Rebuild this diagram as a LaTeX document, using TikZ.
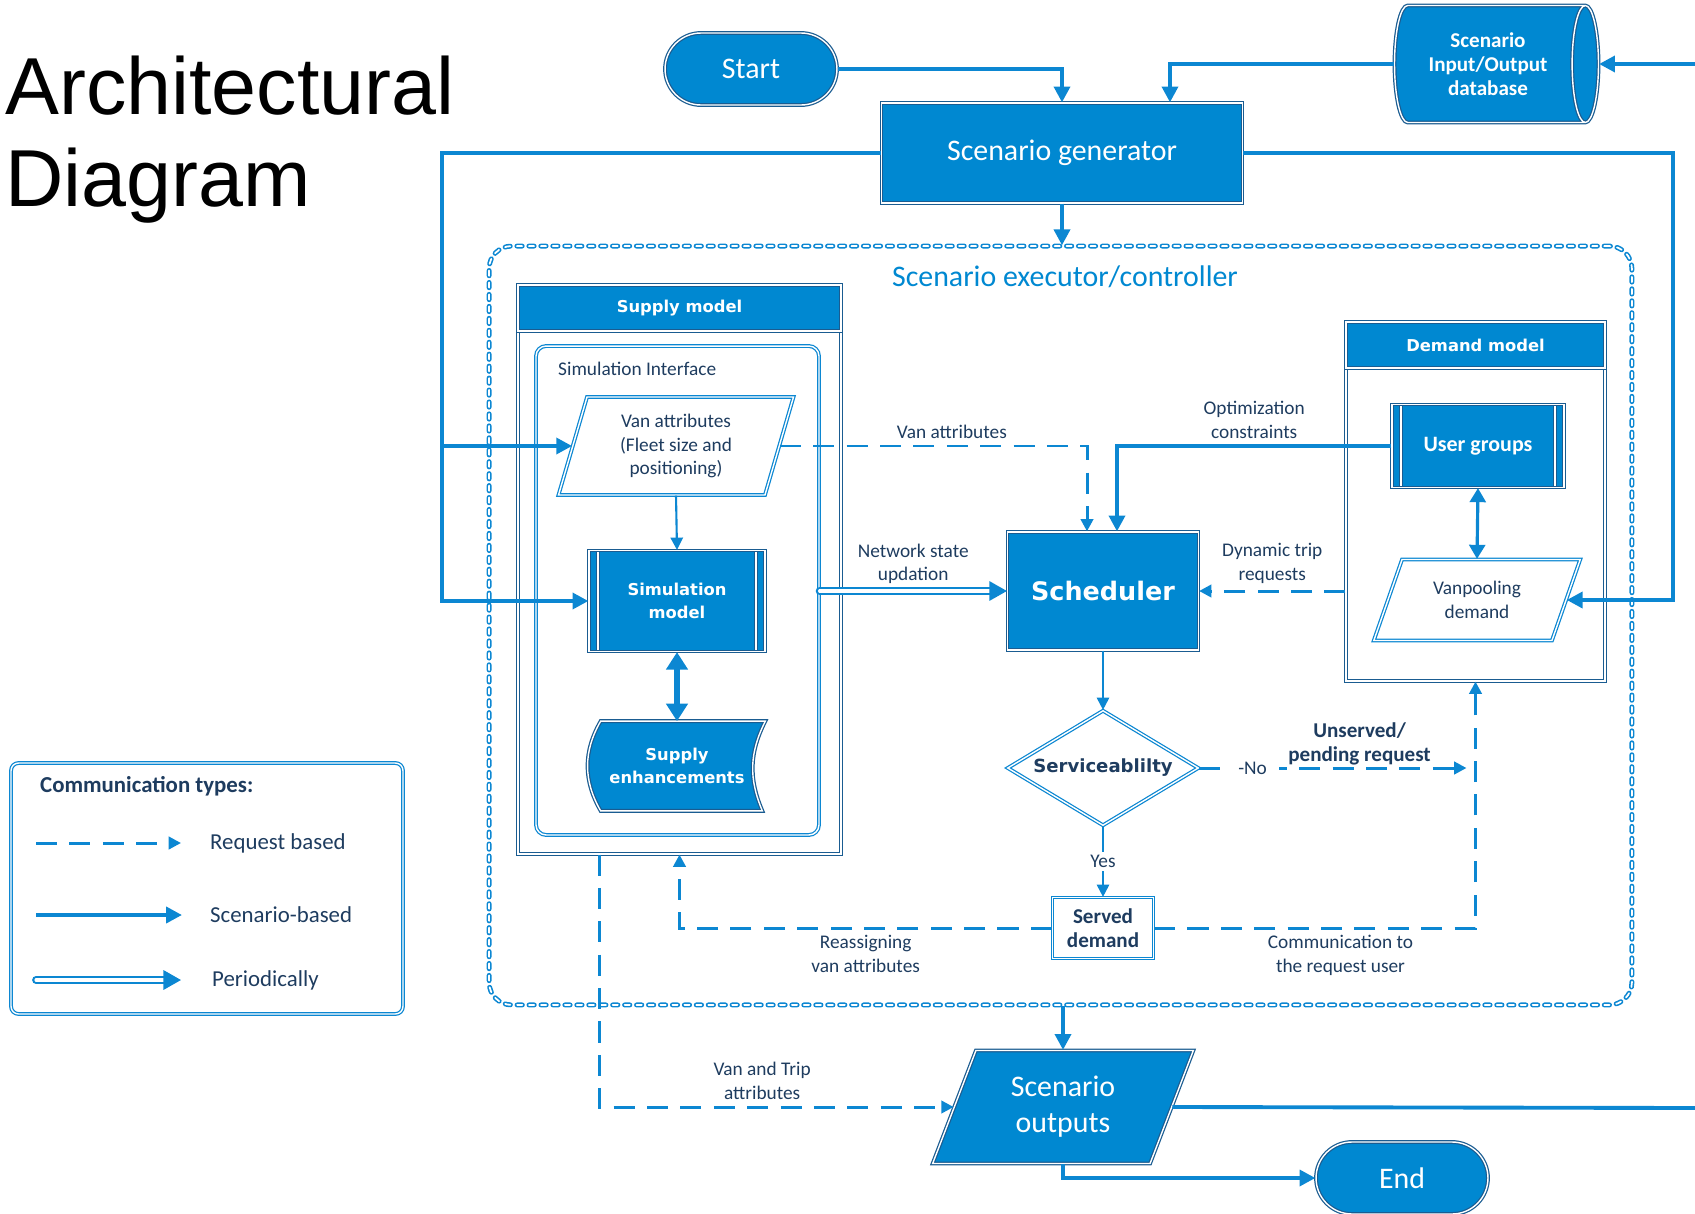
\documentclass[tikz,border=0pt]{standalone}
\usepackage{fontspec}
\setmainfont{Carlito}
\newfontfamily\verdfont{DejaVu Sans}
\newfontfamily\titlefont{Liberation Sans}
\usetikzlibrary{shapes, shapes.geometric, shapes.misc, arrows.meta, positioning, calc, backgrounds}

\definecolor{mainblue}{RGB}{0,136,209}
\definecolor{edgeblue}{RGB}{26,92,145}
\definecolor{lineblue}{RGB}{12,135,210}
\definecolor{textnavy}{RGB}{30,60,95}

\newcommand{\fntbig}{\fontsize{17}{20.5}\selectfont}
\newcommand{\fntlbl}{\fontsize{11}{13.5}\selectfont}
\newcommand{\fntlegend}{\fontsize{13}{15.5}\selectfont}
\newcommand{\fnthead}{\verdfont\bfseries\fontsize{9.3}{13.5}\selectfont}
\newcommand{\fntcal}{\bfseries\fontsize{12}{13.5}\selectfont}
\newcommand{\fntsched}{\verdfont\bfseries\fontsize{14.5}{17}\selectfont}
\newcommand{\fntsvc}{\verdfont\bfseries\fontsize{10.3}{13}\selectfont}

\begin{document}
\begin{tikzpicture}[x=0.02cm, y=-0.02cm,
		sketch/.style={draw=edgeblue, line width=0.7pt, double=white, double distance=0.8pt},
		lightsketch/.style={draw=lineblue, line width=0.7pt, double=white, double distance=0.8pt},
		bluebox/.style={
			sketch,
			fill=mainblue,
			text=white,
			align=center,
			inner sep=2pt
		},
		whitebox/.style={
			lightsketch,
			fill=white,
			text=textnavy,
			align=center,
			inner sep=2pt
		},
		terminal/.style={bluebox, rounded rectangle, minimum width=3.58cm, minimum height=1.44cm, font=\fntbig},
		predef/.style={bluebox, rectangle,
			path picture={
				\draw[edgeblue, line width=0.6pt, double=white, double distance=0.7pt]
				([xshift=0.18cm]path picture bounding box.north west) -- ([xshift=0.18cm]path picture bounding box.south west)
				([xshift=-0.18cm]path picture bounding box.north east) -- ([xshift=-0.18cm]path picture bounding box.south east);
			}},
		execbox/.style={draw=lineblue, line width=0.9pt, double=white, double distance=1pt,
			dash pattern=on 3pt off 3.8pt, line cap=round, rounded corners=0.45cm},
		lbl/.style={text=textnavy, font=\fntlbl, align=center},
		scen/.style={-{Triangle[length=9pt,width=9pt]}, line width=2.2pt, lineblue},
		thinarrow/.style={-{Triangle[length=7pt,width=7pt]}, line width=1.2pt, lineblue},
		req/.style={-{Triangle[length=7pt,width=7pt]}, line width=1.7pt, lineblue, dash pattern=on 12pt off 7pt},
		period/.style={-{Triangle[length=10pt,width=11pt]}, line width=1.3pt, lineblue, double=white, double distance=1.8pt, line cap=round},
		bothways/.style={{Triangle[length=10pt,width=12pt]}-{Triangle[length=10pt,width=12pt]}, line width=3pt, lineblue}]

	\useasboundingbox (0,0) rectangle (1695,1214);

	\node[anchor=north west, inner sep=0pt, align=left, font=\titlefont\fontsize{46}{52}\selectfont] (title) at (5,56) {Architectural\\Diagram};

	\node[execbox, minimum width=22.86cm, minimum height=15.18cm] (exec) at (1060.5,625.5) {};
	\node[text=mainblue, font=\fntbig] (execlbl) at (1065,277) {Scenario executor/controller};

	\node[terminal] (start) at (751,69) {Start};
	\node[bluebox, cylinder, aspect=0.4, inner sep=1pt, minimum width=2.34cm, minimum height=4.08cm, font=\fntcal] (db) at (1488,64) {Scenario\\Input/Output\\database};
	\node[bluebox, minimum width=7.22cm, minimum height=2cm, font=\fntbig] (gen) at (1062,153) {Scenario generator};

	\node[sketch, minimum width=6.46cm, minimum height=11.38cm] (supply) at (679.5,569.5) {};
	\node[bluebox, minimum width=6.46cm, minimum height=0.92cm, anchor=north, font=\fnthead] (supplyhead) at (supply.north) {Supply model};
	\node[lightsketch, rounded corners=0.2cm, minimum width=5.66cm, minimum height=9.78cm] (simif) at (677.5,590.5) {};
	\node[lbl, anchor=west] (simiflbl) at (552,369) {Simulation Interface};

	\node[whitebox, trapezium, trapezium stretches=true, trapezium left angle=75, trapezium right angle=105,
		minimum width=4.74cm, minimum height=1.96cm, font=\fntlbl] (vanattr) at (676,446) {Van attributes\\(Fleet size and\\positioning)};
	\node[predef, minimum width=3.52cm, minimum height=2.02cm, font=\fnthead] (simmodel) at (677,601) {Simulation\\model};
	\node[text=white, align=center, minimum width=3.52cm, minimum height=1.78cm, font=\fnthead] (enh) at (677,766) {Supply\\enhancements};
	\begin{scope}[on background layer]
		\draw[sketch, fill=mainblue] ([xshift=0.24cm]enh.north west) to[bend right=30] ([xshift=0.24cm]enh.south west)
			-- ([xshift=-0.06cm]enh.south east) to[bend left=25] (enh.north east) -- cycle;
	\end{scope}

	\node[bluebox, minimum width=3.82cm, minimum height=2.36cm, font=\fntsched] (sched) at (1103,591) {Scheduler};

	\node[sketch, minimum width=5.18cm, minimum height=7.18cm] (demand) at (1475.5,501.5) {};
	\node[bluebox, minimum width=5.18cm, minimum height=0.92cm, anchor=north, font=\fnthead] (demandhead) at (demand.north) {Demand model};
	\node[predef, minimum width=3.44cm, minimum height=1.66cm, font=\bfseries\fontsize{12.5}{14}\selectfont] (usergroups) at (1478,446) {User groups};
	\node[whitebox, trapezium, trapezium stretches=true, trapezium left angle=68, trapezium right angle=112,
		minimum width=4.14cm, minimum height=1.62cm, font=\fntlbl] (vanpool) at (1477,600) {Vanpooling\\demand};

	\node[whitebox, diamond, aspect=1.66, inner sep=0pt, minimum width=3.82cm, minimum height=2.3cm, font=\fntsvc] (svc) at (1103,768) {Serviceablilty};
	\node[whitebox, minimum width=2.02cm, minimum height=1.22cm, font=\fntcal] (served) at (1103,928) {Served\\demand};

	\node[bluebox, trapezium, trapezium stretches=true, trapezium left angle=68, trapezium right angle=112,
		minimum width=5.24cm, minimum height=2.26cm, font=\fntbig] (outputs) at (1063,1107) {Scenario\\outputs};
	\node[terminal] (end) at (1402,1178) {End};

	\node[lightsketch, rounded corners=0.15cm, minimum width=7.84cm, minimum height=5.02cm] (legend) at (207,888.5) {};
	\node[anchor=west, text=textnavy, font=\bfseries\fontsize{13}{15}\selectfont] (legendtitle) at (34,786) {Communication types:};
	\node[anchor=west, text=textnavy, font=\fntlegend] (lgreq) at (204,843) {Request based};
	\node[anchor=west, text=textnavy, font=\fntlegend] (lgscen) at (204,915) {Scenario-based};
	\node[anchor=west, text=textnavy, font=\fntlegend] (lgper) at (206,980) {Periodically};
	\coordinate (lgreqs) at (36,843);
	\coordinate (lgscens) at (36,915);
	\coordinate (lgpers) at (36,980);

	\coordinate (ltrunk) at (442,0);
	\coordinate (rtrunk) at (1673,0);
	\coordinate (dbin) at (1695,64);
	\coordinate (outright) at (1695,1108);

	\draw[scen] (start.east) -| (gen.north);
	\draw[scen] (db.west) -| ([xshift=2.16cm]gen.north);
	\draw[scen] (dbin) -- (db.east);
	\draw[scen] (gen.west) -- (gen.west -| ltrunk) |- (simmodel.west);
	\draw[scen] (vanattr.west -| ltrunk) -- (vanattr.west);
	\draw[scen] (gen.east) -- (gen.east -| rtrunk) |- (vanpool.east);
	\draw[scen] (gen.south) -- (gen.south |- exec.north);

	\draw[thinarrow] (vanattr.south) -- (simmodel.north);
	\draw[bothways] (simmodel.south) -- (enh.north);
	\draw[bothways, line width=1.8pt, {Triangle[length=8pt,width=9pt]}-{Triangle[length=8pt,width=9pt]}] (usergroups.south) -- (vanpool.north);

	\draw[period] (simif.east |- sched.west) -- (sched.west) node[lbl, midway, above] (lblnet) {Network state\\updation};
	\draw[req] (vanattr.east) -| ([xshift=-0.32cm]sched.north) node[lbl, pos=0.28, above] (lblvan) {Van attributes};
	\draw[scen] (usergroups.west) -| ([xshift=0.28cm]sched.north) node[lbl, pos=0.25, above] (lblopt) {Optimization\\constraints};
	\draw[req] (demand.west |- sched.east) -- (sched.east) node[lbl, midway, above] (lbldyn) {Dynamic trip\\requests};

	\draw[thinarrow] (sched.south) -- (svc.north);
	\draw[req] (svc.east) -- ($(svc.east -| demand.south)+(-9,0)$)
		node[lbl, pos=0.2, fill=white, inner xsep=7pt, inner ysep=1pt] (lblno) {-No}
		node[lbl, pos=0.6, above, inner sep=1pt, font=\fntcal] (lblpend) {Unserved/\\pending request};
	\draw[thinarrow] (svc.south) -- (served.north) node[lbl, midway, fill=white, inner sep=2pt] (lblyes) {Yes};
	\draw[req] (served.west) -| (supply.south) node[lbl, pos=0.25, below] (lblreas) {Reassigning\\van attributes};
	\draw[req] (served.east) -| (demand.south) node[lbl, pos=0.29, below] (lblcomm) {Communication to\\the request user};

	\draw[scen] (outputs.center |- exec.south) -- (outputs.center |- outputs.north);
	\draw[req] ([xshift=-1.61cm]supply.south) |- (outputs.west) node[lbl, pos=0.73, above] (lblvt) {Van and Trip\\attributes};
	\draw[scen, -] (outputs.east) -- (outright);
	\draw[scen] (outputs.center |- outputs.south) |- (end.west);

	\draw[req] (lgreqs) -- ([xshift=-0.46cm]lgreq.west);
	\draw[scen] (lgscens) -- ([xshift=-0.44cm]lgscen.west);
	\draw[period] (lgpers) -- ([xshift=-0.5cm]lgper.west);
\end{tikzpicture}
\end{document}
